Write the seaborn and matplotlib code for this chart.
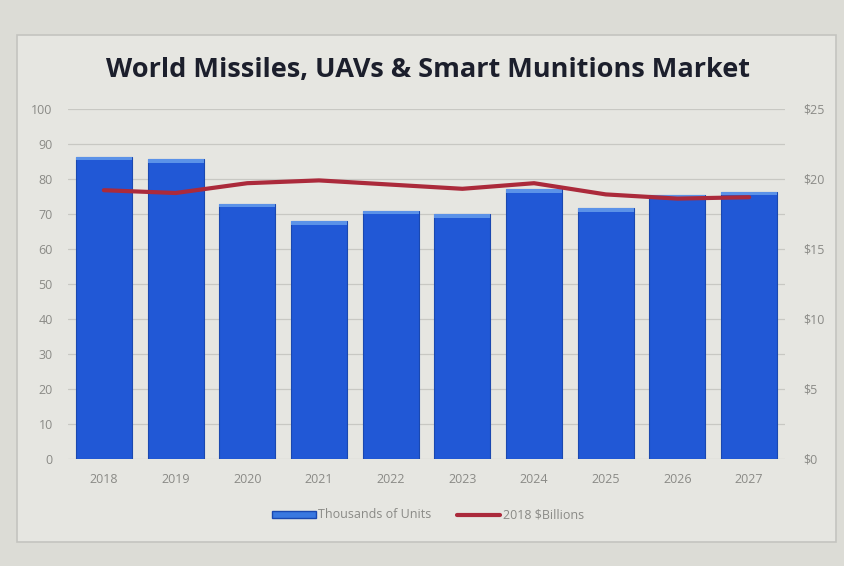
import numpy as np
import pandas as pd
import matplotlib
matplotlib.use("Agg")
import matplotlib.pyplot as plt
import seaborn as sns
from matplotlib.patches import Patch, Rectangle
from matplotlib.lines import Line2D

years = ["2018", "2019", "2020", "2021", "2022", "2023", "2024", "2025", "2026", "2027"]
units = [86.3, 85.7, 72.9, 68.0, 70.9, 70.0, 77.1, 71.7, 75.4, 76.3]
billions = [19.2, 19.0, 19.7, 19.9, 19.6, 19.3, 19.7, 18.9, 18.6, 18.7]
left_ticks = [0, 10, 20, 30, 40, 50, 60, 70, 80, 90, 100]
right_ticks = [0, 5, 10, 15, 20, 25]

sns.set_theme(style="white")
plt.rcParams['font.family'] = ['Open Sans', 'DejaVu Sans']

bg = "#dcdcd6"
inner = "#e6e6e1"
fig = plt.figure(figsize=(8.44, 5.66), dpi=100, facecolor=bg)
# chart frame (photographed screen area)
fig.patches.append(Rectangle((17/844, 1-542/566), (836-17)/844, (542-35)/566,
                             transform=fig.transFigure, facecolor=inner,
                             edgecolor="#c4c4c0", lw=1.2, zorder=-5))

ax = fig.add_axes([68/844, 1-459/566, (785-68)/844, (459-109)/566])
ax.set_facecolor("none")

df = pd.DataFrame({"year": years, "units": units})
sns.barplot(data=df, x="year", y="units", color="#2158d6", saturation=1,
            width=0.78, ax=ax, edgecolor="#1a48b0", linewidth=0.8)
for p in list(ax.patches):
    x0, w, h = p.get_x(), p.get_width(), p.get_height()
    ax.add_patch(Rectangle((x0, h - 1.0), w, 1.0, color="#5b92e8", lw=0, zorder=3))

ax.set_ylim(0, 100)
ax.set_yticks(left_ticks)
ax.set_xlim(-0.5, len(years) - 0.5)
ax.yaxis.grid(True, color="#c8c8c3", lw=0.9)
ax.set_axisbelow(True)
ax.set_xlabel("")
ax.set_ylabel("")
for s in ax.spines.values():
    s.set_visible(False)
ax.tick_params(axis="both", length=0, colors="#8a8a86", labelsize=9)
ax.tick_params(axis="y", pad=11)
ax.tick_params(axis="x", pad=10)

ax2 = ax.twinx()
sns.lineplot(x=np.arange(len(years)), y=billions, ax=ax2, color="#ab2a3b", lw=3)
ax2.set_ylim(0, 25)
ax2.set_yticks(right_ticks)
ax2.set_yticklabels([f"${v}" for v in right_ticks])
ax2.set_xlim(-0.5, len(years) - 0.5)
for s in ax2.spines.values():
    s.set_visible(False)
ax2.tick_params(axis="y", length=0, colors="#8a8a86", labelsize=9, pad=13)
ax2.grid(False)

fig.text(428/844, 1-70/566, "World Missiles, UAVs & Smart Munitions Market",
         ha="center", va="center", fontsize=19.5, fontweight="bold", color="#1c1f2c")

handles = [Patch(facecolor="#3a78e0", edgecolor="#1a48b0"),
           Line2D([0], [0], color="#ab2a3b", lw=3)]
fig.legend(handles, ["Thousands of Units", "2018 $Billions"],
           loc="center", bbox_to_anchor=(428/844, 1-515/566), ncol=2,
           frameon=False, fontsize=9, labelcolor="#8a8a86",
           handlelength=3.5, handleheight=0.5, columnspacing=2, handletextpad=0.2)

fig.savefig("out.png", dpi=100, facecolor=bg)
